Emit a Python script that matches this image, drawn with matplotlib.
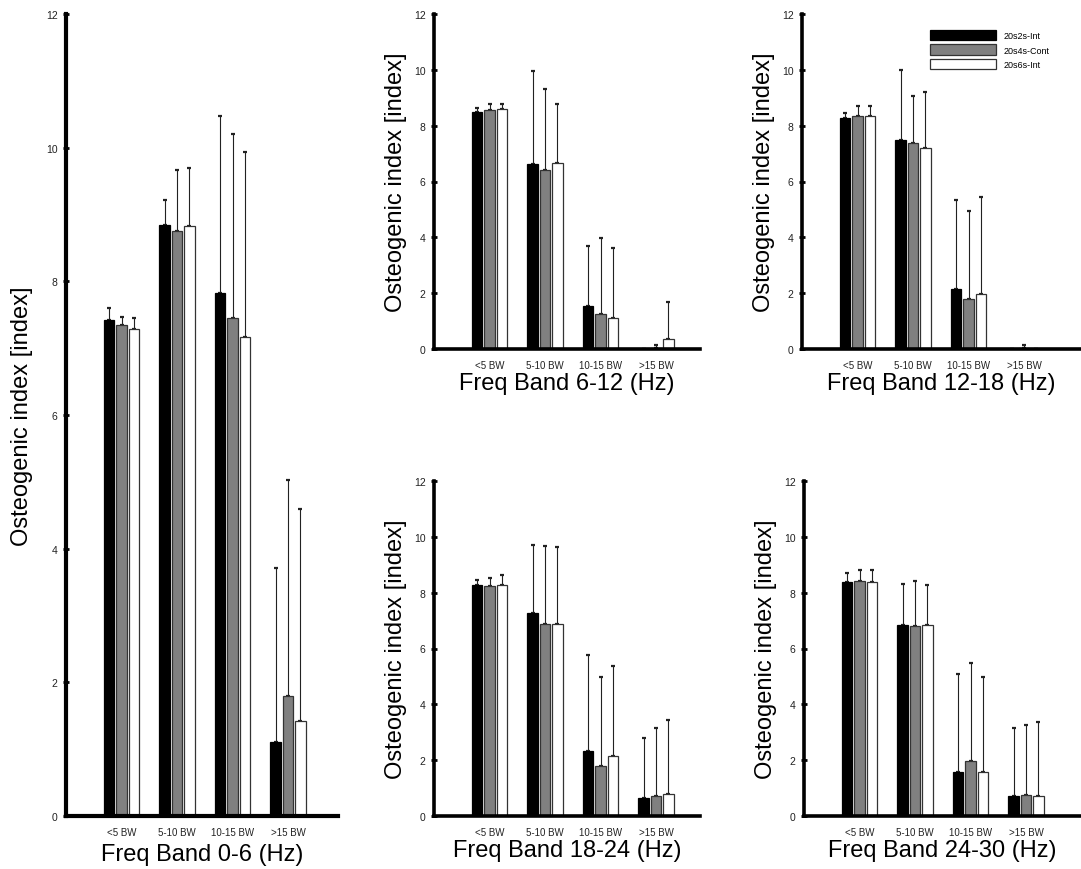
import numpy as np
import matplotlib
matplotlib.use("Agg")
import matplotlib.pyplot as plt

plt.rcParams['font.family'] = ['Liberation Sans', 'DejaVu Sans']

# categories and groups
categories = ['<5 BW', '5-10 BW', '10-15 BW', '>15 BW']
series = ['20s2s-Int', '20s4s-Cont', '20s6s-Int']
bands = ['0-6', '6-12', '12-18', '18-24', '24-30']

# means per band: [20s2s-Int, 20s4s-Cont, 20s6s-Int], one value per category
mean_0_6 = [[7.42, 8.85, 7.82, 1.11], [7.34, 8.76, 7.45, 1.80], [7.29, 8.83, 7.16, 1.42]]
sd_0_6 = [[0.18, 0.37, 2.66, 2.60], [0.13, 0.91, 2.75, 3.23], [0.16, 0.87, 2.78, 3.18]]

mean_6_12 = [[8.48, 6.61, 1.55, 0.0], [8.55, 6.40, 1.24, 0.05], [8.60, 6.68, 1.11, 0.37]]
sd_6_12 = [[0.17, 3.36, 2.15, 0.0], [0.21, 2.90, 2.74, 0.08], [0.16, 2.11, 2.52, 1.33]]

mean_12_18 = [[8.28, 7.47, 2.14, 0.0], [8.33, 7.38, 1.78, 0.05], [8.33, 7.19, 1.97, 0.0]]
sd_12_18 = [[0.19, 2.54, 3.18, 0.0], [0.36, 1.69, 3.18, 0.10], [0.36, 2.03, 3.49, 0.0]]

mean_18_24 = [[8.26, 7.26, 2.33, 0.65], [8.23, 6.89, 1.78, 0.73], [8.27, 6.89, 2.16, 0.80]]
sd_18_24 = [[0.21, 2.44, 3.43, 2.13], [0.31, 2.78, 3.20, 2.41], [0.35, 2.73, 3.22, 2.64]]

mean_24_30 = [[8.38, 6.84, 1.58, 0.72], [8.43, 6.79, 1.97, 0.75], [8.39, 6.84, 1.59, 0.72]]
sd_24_30 = [[0.32, 1.48, 3.49, 2.43], [0.37, 1.64, 3.50, 2.52], [0.41, 1.45, 3.40, 2.66]]

W, H = 1081, 870
PX_PER_UNIT = 55.5
fills = ['black', '#808080', 'white']
edges = ['black', '#333333', '#333333']

# panel boxes in pixels: x0, x1, ytop, ybot
boxes = [(66, 338, 15, 817), (434, 700, 15, 350), (802, 1081, 15, 350),
         (434, 700, 482, 817), (804, 1081, 482, 817)]
means = [mean_0_6, mean_6_12, mean_12_18, mean_18_24, mean_24_30]
sds = [sd_0_6, sd_6_12, sd_12_18, sd_18_24, sd_24_30]

fig = plt.figure(figsize=(W / 100, H / 100), dpi=100)

x = np.arange(1, len(categories) + 1)
offsets = [-0.225, 0.0, 0.225]
for i, (box, band) in enumerate(zip(boxes, bands)):
    x0, x1, yt, yb = box
    ax = fig.add_axes([x0 / W, (H - yb) / H, (x1 - x0) / W, (yb - yt) / H])
    for j in range(3):
        m = np.array(means[i][j])
        s = np.array(sds[i][j])
        ax.bar(x + offsets[j], m, width=0.19, color=fills[j], edgecolor=edges[j],
               linewidth=0.9, label=series[j], zorder=2)
        ax.errorbar(x + offsets[j], m, yerr=[np.zeros_like(s), s], fmt='none',
                    ecolor='#222222', elinewidth=0.8, capsize=1.7, capthick=1.6, zorder=1)
    ax.set_xlim(0, (x1 - x0) / PX_PER_UNIT)
    ax.set_ylim(0, 12)
    ax.set_yticks([0, 2, 4, 6, 8, 10, 12])
    ax.set_xticks(x)
    ax.set_xticklabels(categories, fontsize=7, color='#222222')
    ax.tick_params(axis='y', labelsize=7.5, direction='inout', length=4, width=2, pad=4,
                   labelcolor='#222222')
    ax.tick_params(axis='x', length=0, pad=8)
    for side in ['top', 'right']:
        ax.spines[side].set_visible(False)
    lw = 3.0 if i == 0 else 2.6
    ax.spines['left'].set_linewidth(lw)
    ax.spines['bottom'].set_linewidth(lw)
    ax.set_xlabel('Freq Band %s (Hz)' % band, fontsize=17)
    ax.set_ylabel('Osteogenic index [index]', fontsize=17)
    hp = yb - yt
    wp = x1 - x0
    if i == 0:
        ax.xaxis.set_label_coords(0.5, -38 / hp)
        ax.yaxis.set_label_coords(-44 / wp, 0.5)
    else:
        ax.xaxis.set_label_coords(0.5, -34 / hp)
        ax.yaxis.set_label_coords(-38 / wp, 0.5)
    ax.xaxis.label.set_va('center')
    ax.yaxis.label.set_va('center')
    if i == 2:
        ax.legend(loc='upper left', bbox_to_anchor=((930 - x0) / wp, (yb - 31) / hp),
                  frameon=False, fontsize=6.5, handlelength=7.3, handleheight=1.4,
                  labelspacing=0.45, handletextpad=0.8, borderpad=0, borderaxespad=0)

fig.savefig('out.png', dpi=100)
